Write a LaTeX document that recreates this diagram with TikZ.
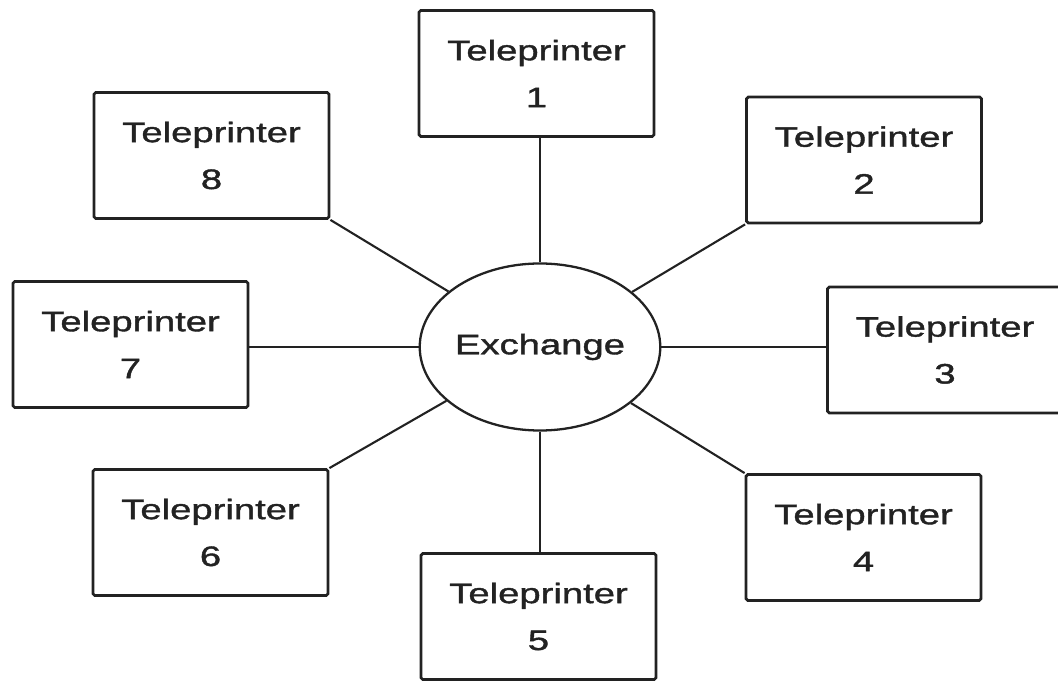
\documentclass[tikz,border=0pt]{standalone}
\usepackage{fontspec}
\setmainfont[FakeStretch=1.38]{Liberation Sans}
\newfontfamily\labelfont[FakeStretch=1.36, FakeBold=1.4]{Liberation Sans}
\usepackage{xcolor}
\usetikzlibrary{shapes, shapes.geometric, positioning, calc}
\definecolor{inkgray}{RGB}{34, 34, 34}

\begin{document}
\begin{tikzpicture}[
        font=\labelfont\fontsize{16}{26.7}\selectfont,
        terminal/.style={
            rectangle,
            draw=inkgray,
            line width=1.6pt,
            rounded corners=1pt,
            minimum width=4.7cm,
            minimum height=2.52cm,
            align=center,
            text=inkgray,
            inner sep=0pt
        },
        hub/.style={
            ellipse,
            draw=inkgray,
            line width=1.3pt,
            minimum width=4.7cm,
            minimum height=3.34cm,
            inner sep=0pt,
            text=inkgray
        },
        link/.style={
            draw=inkgray,
            line width=1.2pt
        }
    ]
        \useasboundingbox (0, 0) rectangle (21.16, 13.62);

        \node[hub] (exchange) at (10.8, 6.68) {Exchange};

        \node[terminal] (tp1) at (10.73, 12.15) {Teleprinter\\1};
        \node[terminal] (tp2) at (17.28, 10.42) {Teleprinter\\2};
        \node[terminal] (tp3) at (18.90, 6.62) {Teleprinter\\3};
        \node[terminal] (tp4) at (17.27, 2.87) {Teleprinter\\4};
        \node[terminal] (tp5) at (10.77, 1.29) {Teleprinter\\5};
        \node[terminal] (tp6) at (4.21, 2.97) {Teleprinter\\6};
        \node[terminal] (tp7) at (2.61, 6.73) {Teleprinter\\7};
        \node[terminal] (tp8) at (4.23, 10.51) {Teleprinter\\8};

        \draw[link] (exchange.north) -- (exchange.north |- tp1.south);
        \draw[link] (tp2.south west) -- (exchange);
        \draw[link] (exchange.east) -- (exchange.east -| tp3.west);
        \draw[link] (tp4.north west) -- (exchange);
        \draw[link] (exchange.south) -- (exchange.south |- tp5.north);
        \draw[link] (tp6.north east) -- (exchange);
        \draw[link] (exchange.west) -- (exchange.west -| tp7.east);
        \draw[link] (tp8.south east) -- (exchange);
    \end{tikzpicture}
\end{document}
